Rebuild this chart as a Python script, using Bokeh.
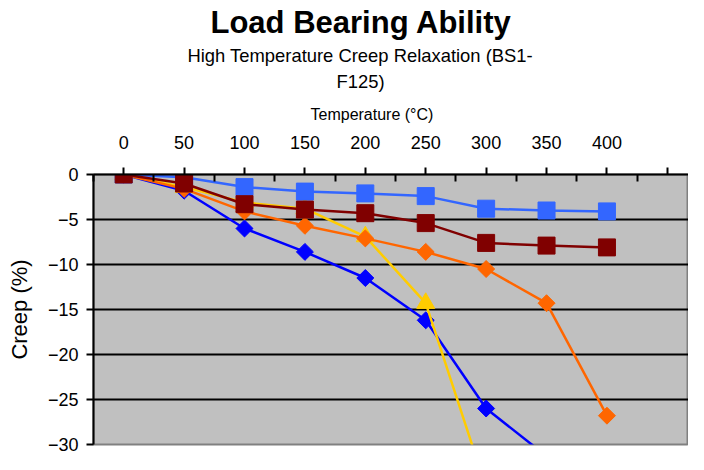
import math
from bokeh.plotting import figure
from bokeh.models import Range1d, FixedTicker, Title
from bokeh.embed import file_html
from bokeh.resources import INLINE

# Temperature categories (°C)
temps = [0, 50, 100, 150, 200, 250, 300, 350, 400]
x_tick_values = [0, 50, 100, 150, 200, 250, 300, 350, 400, 450]
x_minor_values = [-25, 25, 75, 125, 175, 225, 275, 325, 375, 425, 475]
y_tick_values = [-30, -25, -20, -15, -10, -5, 0]

# Creep (%) per series
blue_diamond = [0, -1.8, -6.0, -8.6, -11.5, -16.2, -26.0, -31.3]
yellow_triangle = [0, -1.4, -3.1, -3.8, -6.9, -14.3, -34.8]
orange_diamond = [0, -1.6, -4.1, -5.7, -7.1, -8.6, -10.5, -14.3, -26.8]
lightblue_square = [0, -0.3, -1.4, -1.9, -2.1, -2.4, -3.8, -4.0, -4.1]
maroon_square = [0, -1.0, -3.3, -3.9, -4.3, -5.4, -7.6, -7.9, -8.1]

FONT = "Liberation Sans"

p = figure(width=688, height=454, title=None,
           x_range=Range1d(-25, 467.5), y_range=Range1d(-30, 0),
           x_axis_location="above",
           output_backend="svg", toolbar_location=None,
           background_fill_color="#C0C0C0", border_fill_color="white",
           min_border_left=93, min_border_right=0,
           min_border_top=173, min_border_bottom=10)

p.outline_line_color = "#808080"
p.outline_line_width = 2

# grid
p.xgrid.visible = False
p.ygrid.ticker = FixedTicker(ticks=[-25, -20, -15, -10, -5])
p.ygrid.grid_line_color = "black"
p.ygrid.grid_line_width = 2

# x axis (top)
xa = p.xaxis[0]
xa.ticker = FixedTicker(ticks=x_tick_values, minor_ticks=x_minor_values)
xa.major_label_overrides = {450: ""}
xa.axis_line_color = "black"
xa.axis_line_width = 2
xa.major_tick_in = 0
xa.major_tick_out = 7
xa.minor_tick_in = 7
xa.minor_tick_out = 0
xa.major_tick_line_color = "black"
xa.major_tick_line_width = 2
xa.minor_tick_line_color = "black"
xa.minor_tick_line_width = 2
xa.major_label_text_font = FONT
xa.major_label_text_font_size = "18px"
xa.major_label_text_color = "black"
xa.major_label_standoff = 19

# y axis (left)
ya = p.yaxis[0]
ya.ticker = FixedTicker(ticks=y_tick_values, minor_ticks=[])
ya.axis_line_color = "black"
ya.axis_line_width = 2
ya.major_tick_in = 0
ya.major_tick_out = 7
ya.major_tick_line_color = "black"
ya.major_tick_line_width = 2
ya.minor_tick_line_color = None
ya.major_label_text_font = FONT
ya.major_label_text_font_size = "18px"
ya.major_label_text_color = "black"
ya.major_label_standoff = 8
ya.axis_label = "Creep (%)"
ya.axis_label_text_font = FONT
ya.axis_label_text_font_size = "22px"
ya.axis_label_text_font_style = "normal"
ya.axis_label_text_color = "black"
ya.axis_label_standoff = 13

# titles above the axis (added inner to outer), left aligned with offsets
for txt, size, style, standoff, offset in [
        ("Temperature (°C)", "16px", "normal", 19, 217),
        ("F125)", "18.4px", "normal", 6, 243),
        ("High Temperature Creep Relaxation (BS1-", "18.4px", "normal", 0, 94),
        ("Load Bearing Ability", "31px", "bold", 5, 117)]:
    t = Title(text=txt, align="left", text_font=FONT, text_font_size=size,
              text_font_style=style, text_color="black",
              standoff=standoff, offset=offset)
    p.add_layout(t, "above")

LW = 2.5
ROT = math.pi / 4
# series drawn bottom to top
p.line(temps[:len(blue_diamond)], blue_diamond, line_color="#0000FF", line_width=LW)
p.scatter(temps[:len(blue_diamond)], blue_diamond, marker="square", angle=ROT, size=12,
          fill_color="#0000FF", line_color="#0000FF")

p.line(temps[:len(yellow_triangle)], yellow_triangle, line_color="#FFCC00", line_width=LW)
p.scatter(temps[:len(yellow_triangle)], yellow_triangle, marker="triangle", size=18,
          fill_color="#FFCC00", line_color="#FFCC00")

p.line(temps[:len(orange_diamond)], orange_diamond, line_color="#FF6600", line_width=LW)
p.scatter(temps[:len(orange_diamond)], orange_diamond, marker="square", angle=ROT, size=12,
          fill_color="#FF6600", line_color="#FF6600")

p.line(temps[:len(lightblue_square)], lightblue_square, line_color="#3366FF", line_width=LW)
p.scatter(temps[:len(lightblue_square)], lightblue_square, marker="square", size=17,
          fill_color="#3366FF", line_color="#3366FF")

p.line(temps[:len(maroon_square)], maroon_square, line_color="#800000", line_width=LW)
p.scatter(temps[:len(maroon_square)], maroon_square, marker="square", size=17,
          fill_color="#800000", line_color="#800000")

open("out.html", "w").write(file_html(p, INLINE))
